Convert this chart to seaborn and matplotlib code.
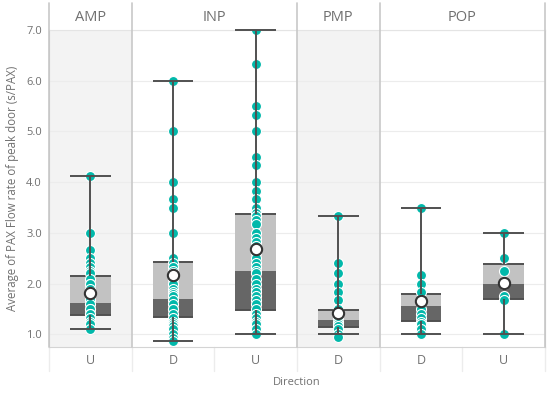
import numpy as np
import pandas as pd
import matplotlib
matplotlib.use("Agg")
import matplotlib.pyplot as plt
import matplotlib.transforms as mtransforms
import seaborn as sns

# %%
# columns: (panel, direction)
panels = ["AMP", "INP", "INP", "PMP", "POP", "POP"]
directions = ["U", "D", "U", "D", "D", "U"]

# points per column
amp_u = [4.12, 3.0, 2.67, 2.5, 2.4, 2.33, 2.25, 2.2, 2.1, 2.0, 2.0, 1.9, 1.83, 1.75,
         1.67, 1.6, 1.5, 1.5, 1.4, 1.4, 1.33, 1.25, 1.2, 1.1]
inp_d = [6.0, 5.0, 4.0, 3.67, 3.5, 3.0, 2.5, 2.4, 2.33, 2.25, 2.2, 2.1, 2.0, 2.0, 1.9,
         1.83, 1.8, 1.75, 1.67, 1.6, 1.5, 1.5, 1.4, 1.33, 1.25, 1.2, 1.17, 1.1, 1.0,
         0.93, 0.87]
inp_u = [7.0, 6.33, 5.5, 5.33, 5.0, 4.5, 4.33, 4.0, 3.83, 3.67, 3.5, 3.4, 3.33, 3.25,
         3.17, 3.0, 2.9, 2.83, 2.75, 2.67, 2.6, 2.5, 2.4, 2.33, 2.25, 2.2, 2.1, 2.0,
         1.9, 1.83, 1.75, 1.67, 1.6, 1.5, 1.4, 1.33, 1.25, 1.2, 1.1, 1.0]
pmp_d = [3.33, 2.4, 2.2, 2.0, 1.83, 1.67, 1.5, 1.4, 1.33, 1.25, 1.2, 1.17, 1.1, 1.0, 0.95]
pop_d = [3.5, 2.17, 2.0, 1.83, 1.67, 1.5, 1.4, 1.33, 1.25, 1.2, 1.1, 1.0]
pop_u = [3.0, 2.5, 2.25, 2.0, 1.75, 1.67, 1.0]
points = [amp_u, inp_d, inp_u, pmp_d, pop_d, pop_u]

# box statistics
whis_lo = [1.10, 0.87, 1.00, 1.00, 1.00, 1.00]
q1 = [1.38, 1.35, 1.48, 1.15, 1.27, 1.69]
median = [1.62, 1.70, 2.24, 1.29, 1.56, 1.99]
q3 = [2.15, 2.42, 3.37, 1.48, 1.79, 2.38]
whis_hi = [4.12, 6.00, 7.00, 3.33, 3.50, 3.00]
mean = [1.82, 2.17, 2.68, 1.42, 1.66, 2.02]

# %%
cols = [f"{p}|{d}" for p, d in zip(panels, directions)]
df = pd.DataFrame({
    "col": np.repeat(cols, [len(p) for p in points]),
    "value": np.concatenate(points),
})

teal = "#01B8AA"
dark = "#666666"
light = "#c2c2c2"
line_c = "#505050"
txt = "#707070"
font = ["Open Sans", "DejaVu Sans"]

sns.set_style("white")
plt.rcParams["font.family"] = font

fig = plt.figure(figsize=(5.5, 3.93), dpi=100)
ax = fig.add_axes([49 / 550, 1 - 347 / 393, 496 / 550, 317 / 393])

x = np.arange(len(cols))
bw = 0.49

# shaded panels
for i in (0, 3):
    ax.axvspan(i - 0.5, i + 0.5, color="#f3f3f3", zorder=0, lw=0)

# boxes (lower part dark, upper part light)
ax.bar(x, np.subtract(median, q1), bottom=q1, width=bw, color=dark, zorder=2, lw=0)
ax.bar(x, np.subtract(q3, median), bottom=median, width=bw, color=light, zorder=2, lw=0)
ax.hlines(q1, x - bw / 2, x + bw / 2, color=line_c, lw=1.4, zorder=2.5)
ax.hlines(q3, x - bw / 2, x + bw / 2, color=line_c, lw=1.4, zorder=2.5)

# points
sns.stripplot(data=df, x="col", y="value", order=cols, jitter=False, color=teal,
              size=7.2, edgecolor="white", linewidth=0.8, ax=ax, zorder=4)

# whiskers and caps
ax.vlines(x, q3, whis_hi, color=line_c, lw=1.4, zorder=5)
ax.vlines(x, whis_lo, q1, color=line_c, lw=1.4, zorder=5)
ax.hlines(whis_hi, x - bw / 2, x + bw / 2, color=line_c, lw=1.4, zorder=5, clip_on=False)
ax.hlines(whis_lo, x - bw / 2, x + bw / 2, color=line_c, lw=1.4, zorder=5)

# mean markers
ax.scatter(x, mean, s=66, facecolor="white", edgecolor="#333333", linewidth=1.5, zorder=6)

ax.set_xlim(-0.5, len(cols) - 0.5)
ax.set_ylim(0.75, 7.0)
ax.set_yticks(np.arange(1, 8))
ax.set_yticklabels([f"{v:.1f}" for v in np.arange(1, 8)])
ax.yaxis.grid(True, color="#ececec", lw=0.8, zorder=0.5)
ax.set_axisbelow(True)
ax.set_xticks(x)
ax.set_xticklabels(directions)
ax.tick_params(axis="both", length=0, colors=txt)
ax.tick_params(axis="y", labelsize=8, pad=5)
ax.tick_params(axis="x", labelsize=9, pad=5)
ax.set_xlabel("Direction", fontsize=8, color=txt, labelpad=7)
ax.set_ylabel("Average of PAX Flow rate of peak door (s/PAX)", fontsize=8.3,
              color=txt, labelpad=5)

for s in ("left", "right"):
    ax.spines[s].set_color("#c8c8c8")
ax.spines["bottom"].set_color("#d4d4d4")
ax.spines["top"].set_color("#e4e4e4")

# panel borders and header
tr = mtransforms.blended_transform_factory(ax.transData, ax.transAxes)
for b in (-0.5, 0.5, 2.5, 3.5, 5.5):
    ax.plot([b, b], [0, 1.085], transform=tr, color="#c8c8c8", lw=1.2,
            clip_on=False, zorder=7)
for b in np.arange(-0.5, len(cols)):
    ax.plot([b, b], [-0.075, 0], transform=tr, color="#ececec", lw=1,
            clip_on=False)
for name, pos in [("AMP", 0), ("INP", 1.5), ("PMP", 3), ("POP", 4.5)]:
    ax.text(pos, 1.04, name, transform=tr, ha="center", va="center",
            fontsize=10.5, color=txt)

fig.savefig("out.png", dpi=100)
